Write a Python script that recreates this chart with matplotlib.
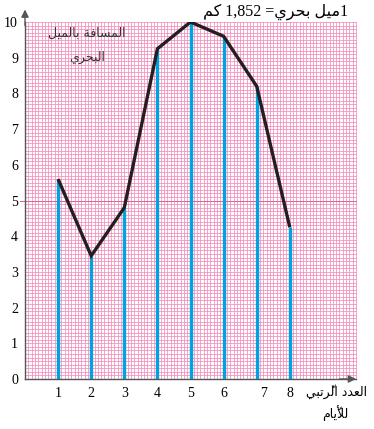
import unicodedata

import numpy as np
import matplotlib
matplotlib.use('Agg')
import matplotlib.pyplot as plt
from matplotlib.transforms import ScaledTranslation


days = [1, 2, 3, 4, 5, 6, 7, 8]
distance = [5.6, 3.45, 4.8, 9.25, 10.0, 9.6, 8.2, 4.25]
y_ticks = [0, 1, 2, 3, 4, 5, 6, 7, 8, 9, 10]

grid_colour = '#f28cba'
bar_colour = '#00a3e0'
line_colour = '#231f20'
axis_colour = '#555555'

# --- tiny arabic shaper (matplotlib 3.10 has no complex text layout) ---
FOUR_FORMS = {
    'ب': 0xFE8F, 'ت': 0xFE95, 'ث': 0xFE99, 'ج': 0xFE9D, 'ح': 0xFEA1,
    'خ': 0xFEA5, 'س': 0xFEB1, 'ش': 0xFEB5, 'ص': 0xFEB9, 'ض': 0xFEBD,
    'ط': 0xFEC1, 'ظ': 0xFEC5, 'ع': 0xFEC9, 'غ': 0xFECD, 'ف': 0xFED1,
    'ق': 0xFED5, 'ك': 0xFED9, 'ل': 0xFEDD, 'م': 0xFEE1, 'ن': 0xFEE5,
    'ه': 0xFEE9, 'ي': 0xFEF1,
}
TWO_FORMS = {
    'آ': 0xFE81, 'أ': 0xFE83, 'إ': 0xFE87, 'ا': 0xFE8D, 'ة': 0xFE93,
    'د': 0xFEA9, 'ذ': 0xFEAB, 'ر': 0xFEAD, 'ز': 0xFEAF, 'و': 0xFEED,
    'ى': 0xFEEF,
}
LAM_ALEF = {'آ': 0xFEF5, 'أ': 0xFEF7, 'إ': 0xFEF9, 'ا': 0xFEFB}


def is_letter(b):
    return isinstance(b, tuple) or b in FOUR_FORMS or b in TWO_FORMS


def shape(word):
    clusters = []
    for ch in word:
        if unicodedata.combining(ch) and clusters:
            clusters[-1][1] += ch
        else:
            clusters.append([ch, ''])
    merged = []
    i = 0
    while i < len(clusters):
        b, m = clusters[i]
        if b == 'ل' and i + 1 < len(clusters) and clusters[i + 1][0] in LAM_ALEF:
            merged.append([('LA', clusters[i + 1][0]), m + clusters[i + 1][1]])
            i += 2
        else:
            merged.append([b, m])
            i += 1
    out = []
    for i, (b, m) in enumerate(merged):
        prev = merged[i - 1][0] if i > 0 else None
        nxt = merged[i + 1][0] if i + 1 < len(merged) else None
        joins_prev = (prev is not None and not isinstance(prev, tuple)
                      and prev in FOUR_FORMS and is_letter(b))
        joins_next = (not isinstance(b, tuple) and b in FOUR_FORMS
                      and nxt is not None and is_letter(nxt))
        if isinstance(b, tuple):
            g = chr(LAM_ALEF[b[1]] + (1 if joins_prev else 0))
        elif b in FOUR_FORMS:
            if joins_prev and joins_next:
                k = 3
            elif joins_next:
                k = 2
            elif joins_prev:
                k = 1
            else:
                k = 0
            g = chr(FOUR_FORMS[b] + k)
        elif b in TWO_FORMS:
            g = chr(TWO_FORMS[b] + (1 if joins_prev else 0))
        else:
            g = b
        out.append(g + m)
    return ''.join(reversed(out))


def rtl(text):
    return ' '.join(shape(w) for w in reversed(text.split(' ')))


fig = plt.figure(figsize=(3.74, 4.29), dpi=100)
ax = fig.add_axes([25 / 374, 50 / 429, 331 / 374, 357 / 429])

ax.set_xlim(0, 10)
ax.set_ylim(0, 10)

# millimetre paper
for v in np.arange(0, 10.01, 0.1):
    ax.axhline(v, color=grid_colour, lw=0.55, zorder=0, clip_on=False)
    ax.axvline(v, color=grid_colour, lw=0.55, zorder=0, clip_on=False)
ax.plot([-0.15, 10], [5, 5], color='#e0609a', lw=0.7, zorder=0, clip_on=False)

ax.vlines(days, 0, distance, colors=bar_colour, lw=2.4, zorder=2)
ax.plot(days, distance, color=line_colour, lw=2.4, zorder=3,
        solid_joinstyle='miter', solid_capstyle='butt')

for s in ['top', 'right']:
    ax.spines[s].set_visible(False)
for s in ['left', 'bottom']:
    ax.spines[s].set_color(axis_colour)
    ax.spines[s].set_linewidth(1.0)

ax.annotate('', xy=(0, 1.035), xytext=(0, 0.99), xycoords='axes fraction',
            arrowprops=dict(arrowstyle='-|>', color=axis_colour, lw=1.0,
                            mutation_scale=11, shrinkA=0, shrinkB=0))
ax.annotate('', xy=(1.0, 0), xytext=(0.95, 0), xycoords='axes fraction',
            arrowprops=dict(arrowstyle='-|>', color=axis_colour, lw=1.0,
                            mutation_scale=11, shrinkA=0, shrinkB=0))

num_font = ['Liberation Serif', 'DejaVu Sans']
ax.set_xticks(days)
ax.set_xticklabels([str(d) for d in days], family=num_font, fontsize=10)
ax.set_yticks(y_ticks)
ax.set_yticklabels([str(v) for v in y_ticks], family=num_font, fontsize=10)
ax.tick_params(length=0)
ax.tick_params(axis='x', pad=6)
ax.tick_params(axis='y', pad=5)
# the "7" sits a little right of its bar in the original
lab7 = ax.get_xticklabels()[6]
lab7.set_transform(lab7.get_transform() + ScaledTranslation(0.07, 0, fig.dpi_scale_trans))

arabic = ['DejaVu Sans']
header = shape('كم') + ' 1,852 =' + shape('بحري') + ' ' + shape('ميل') + '1'
fig.text(276 / 374, 1 - 12 / 429, header, family=['Liberation Serif', 'DejaVu Sans'],
         fontsize=11.5, ha='center', va='center')

fig.text(87 / 374, 1 - 33 / 429, rtl('المسافة بالميل'), family=arabic,
         fontsize=9, ha='center', va='center', color='#333333')
fig.text(87 / 374, 1 - 57 / 429, rtl('البحري'), family=arabic,
         fontsize=9, ha='center', va='center', color='#333333')

fig.text(336 / 374, 1 - 392 / 429, rtl('العدد الرّتبي'), family=arabic,
         fontsize=9, ha='center', va='center')
fig.text(335 / 374, 1 - 413 / 429, rtl('للأيّام'), family=arabic,
         fontsize=9, ha='center', va='center')

fig.savefig('out.png', dpi=100)
